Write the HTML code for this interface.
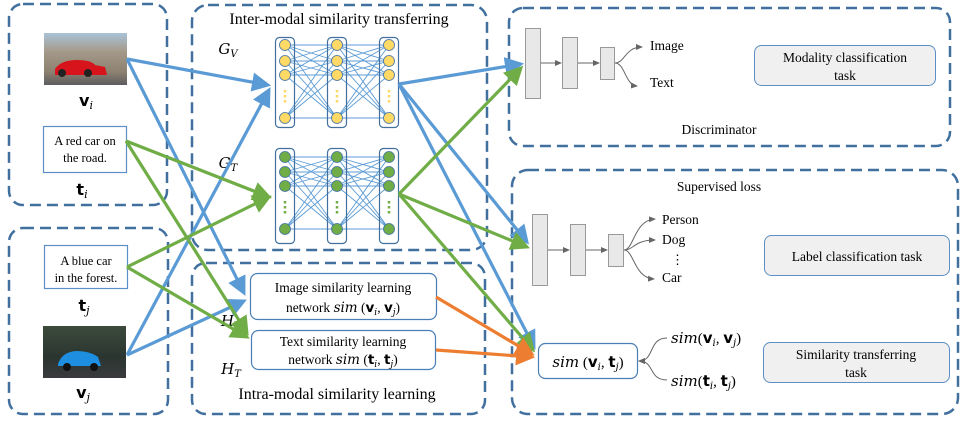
<!DOCTYPE html>
<html><head><meta charset="utf-8"><style>
html,body{margin:0;padding:0;background:#fff;}
svg{display:block;font-family:"Liberation Serif",serif;}
.it{font-style:italic;font-family:"DejaVu Serif","Liberation Serif",serif;}
</style></head><body>
<svg width="970" height="421" viewBox="0 0 970 421" xmlns="http://www.w3.org/2000/svg">
<defs>
<marker id="ab" markerWidth="6" markerHeight="6" refX="5" refY="3" orient="auto" markerUnits="strokeWidth"><path d="M0,0 L6,3 L0,6 z" fill="#5b9bd5"/></marker>
<marker id="ag" markerWidth="6" markerHeight="6" refX="5" refY="3" orient="auto" markerUnits="strokeWidth"><path d="M0,0 L6,3 L0,6 z" fill="#70ad47"/></marker>
<marker id="ao" markerWidth="6" markerHeight="6" refX="5" refY="3" orient="auto" markerUnits="strokeWidth"><path d="M0,0 L6,3 L0,6 z" fill="#ed7d31"/></marker>
<marker id="ak" markerWidth="8" markerHeight="8" refX="6" refY="3" orient="auto" markerUnits="userSpaceOnUse"><path d="M0,0 L7,3 L0,6 z" fill="#666"/></marker>
<linearGradient id="sky" x1="0" y1="0" x2="0" y2="1"><stop offset="0" stop-color="#a9c3d8"/><stop offset="0.35" stop-color="#a59a8a"/><stop offset="0.75" stop-color="#8d8170"/><stop offset="1" stop-color="#5c5c60"/></linearGradient>
<linearGradient id="for" x1="0" y1="0" x2="0" y2="1"><stop offset="0" stop-color="#3c4a3c"/><stop offset="0.6" stop-color="#2b3530"/><stop offset="1" stop-color="#3a3a3e"/></linearGradient>
</defs>

<g fill="none" stroke="#41709f" stroke-width="2.5" stroke-dasharray="11,6">
<rect x="9" y="4" width="158" height="201" rx="14"/>
<rect x="9" y="228" width="159" height="186" rx="14"/>
<rect x="192" y="5" width="295" height="245" rx="16"/>
<rect x="192" y="263" width="293" height="151" rx="14"/>
<rect x="509" y="8" width="441" height="138" rx="14"/>
<rect x="512" y="170" width="446" height="244" rx="16"/>
</g>

<rect x="44" y="33" width="83" height="52" fill="url(#sky)"/>
<path d="M55,69 q6,-9 22,-9 q14,0 18,5 l10,2 l2,8 l-52,0 z" fill="#d7141c"/>
<circle cx="62" cy="73" r="4" fill="#222"/><circle cx="88" cy="73" r="4" fill="#222"/>
<text x="86" y="106" font-size="16" font-weight="bold" text-anchor="middle" font-family="DejaVu Sans">v<tspan class="it" font-size="11" font-weight="normal" dy="3">i</tspan></text>
<rect x="43" y="326" width="83" height="52" fill="url(#for)"/>
<path d="M58,364 q4,-12 18,-13 q14,0 22,6 l3,9 l-43,0 z" fill="#1e8fe0"/>
<circle cx="67" cy="367" r="4" fill="#111"/><circle cx="94" cy="367" r="4" fill="#111"/>
<text x="83" y="398" font-size="16" font-weight="bold" text-anchor="middle" font-family="DejaVu Sans">v<tspan class="it" font-size="11" font-weight="normal" dy="3">j</tspan></text>

<rect x="43.5" y="126.5" width="83" height="46" fill="#fff" stroke="#5b8fc5" stroke-width="1.2"/>
<text x="85" y="145" font-size="12.5" text-anchor="middle">A red car on</text>
<text x="85" y="162" font-size="12.5" text-anchor="middle">the road.</text>
<text x="82" y="195" font-size="16" font-weight="bold" text-anchor="middle" font-family="DejaVu Sans">t<tspan class="it" font-size="11" font-weight="normal" dy="3">i</tspan></text>
<rect x="44.5" y="245.5" width="83" height="43" fill="#fff" stroke="#5b8fc5" stroke-width="1.2"/>
<text x="86" y="265" font-size="12.5" text-anchor="middle">A blue car</text>
<text x="86" y="282" font-size="12.5" text-anchor="middle">in the forest.</text>
<text x="84" y="311" font-size="16" font-weight="bold" text-anchor="middle" font-family="DejaVu Sans">t<tspan class="it" font-size="11" font-weight="normal" dy="3">j</tspan></text>

<text x="339" y="24" font-size="16" text-anchor="middle">Inter-modal similarity transferring</text>
<text x="228" y="54" font-size="15" class="it" text-anchor="middle">G<tspan font-size="10" dy="3">V</tspan></text>
<text x="228" y="168" font-size="15" class="it" text-anchor="middle">G<tspan font-size="10" dy="3">T</tspan></text>

<g stroke="#5b9bd5" stroke-width="0.9" fill="none">
<path d="M285,45 L337,45 M285,45 L337,61 M285,45 L337,75 M285,45 L337,118 M285,61 L337,45 M285,61 L337,61 M285,61 L337,75 M285,61 L337,118 M285,75 L337,45 M285,75 L337,61 M285,75 L337,75 M285,75 L337,118 M285,118 L337,45 M285,118 L337,61 M285,118 L337,75 M285,118 L337,118"/>
<path d="M337,45 L389,45 M337,45 L389,61 M337,45 L389,75 M337,45 L389,118 M337,61 L389,45 M337,61 L389,61 M337,61 L389,75 M337,61 L389,118 M337,75 L389,45 M337,75 L389,61 M337,75 L389,75 M337,75 L389,118 M337,118 L389,45 M337,118 L389,61 M337,118 L389,75 M337,118 L389,118"/>
<path d="M285,157 L337,157 M285,157 L337,172 M285,157 L337,186 M285,157 L337,229 M285,172 L337,157 M285,172 L337,172 M285,172 L337,186 M285,172 L337,229 M285,186 L337,157 M285,186 L337,172 M285,186 L337,186 M285,186 L337,229 M285,229 L337,157 M285,229 L337,172 M285,229 L337,186 M285,229 L337,229"/>
<path d="M337,157 L389,157 M337,157 L389,172 M337,157 L389,186 M337,157 L389,229 M337,172 L389,157 M337,172 L389,172 M337,172 L389,186 M337,172 L389,229 M337,186 L389,157 M337,186 L389,172 M337,186 L389,186 M337,186 L389,229 M337,229 L389,157 M337,229 L389,172 M337,229 L389,186 M337,229 L389,229"/>
</g>
<g fill="none" stroke="#41709f" stroke-width="1.2">
<rect x="275.5" y="37.5" width="19" height="90" rx="4"/><rect x="327.5" y="37.5" width="19" height="90" rx="4"/><rect x="379.5" y="37.5" width="19" height="90" rx="4"/>
<rect x="275.5" y="148.5" width="19" height="95" rx="4"/><rect x="327.5" y="148.5" width="19" height="95" rx="4"/><rect x="379.5" y="148.5" width="19" height="95" rx="4"/>
</g>
<g stroke="#41709f" stroke-width="0.8">
<g fill="#ffd966">
<circle cx="285" cy="45" r="5.5"/><circle cx="285" cy="61" r="5.5"/><circle cx="285" cy="75" r="5.5"/><circle cx="285" cy="118" r="5.5"/>
<circle cx="337" cy="45" r="5.5"/><circle cx="337" cy="61" r="5.5"/><circle cx="337" cy="75" r="5.5"/><circle cx="337" cy="118" r="5.5"/>
<circle cx="389" cy="45" r="5.5"/><circle cx="389" cy="61" r="5.5"/><circle cx="389" cy="75" r="5.5"/><circle cx="389" cy="118" r="5.5"/>
</g>
<g fill="#70ad47">
<circle cx="285" cy="157" r="5.5"/><circle cx="285" cy="172" r="5.5"/><circle cx="285" cy="186" r="5.5"/><circle cx="285" cy="229" r="5.5"/>
<circle cx="337" cy="157" r="5.5"/><circle cx="337" cy="172" r="5.5"/><circle cx="337" cy="186" r="5.5"/><circle cx="337" cy="229" r="5.5"/>
<circle cx="389" cy="157" r="5.5"/><circle cx="389" cy="172" r="5.5"/><circle cx="389" cy="186" r="5.5"/><circle cx="389" cy="229" r="5.5"/>
</g>
</g>
<g stroke-width="2.5" stroke-dasharray="2.5,2.5">
<path d="M285,90 V105 M337,90 V105 M389,90 V105" stroke="#ffd966"/>
<path d="M285,201 V216 M337,201 V216 M389,201 V216" stroke="#70ad47"/>
</g>

<rect x="250.5" y="273.5" width="186" height="46" rx="7" fill="#fff" stroke="#4a7fb5" stroke-width="1.2"/>
<text x="343" y="292" font-size="13.5" text-anchor="middle">Image similarity learning</text>
<text x="343" y="312" font-size="13.5" text-anchor="middle">network <tspan class="it">sim</tspan> (<tspan font-weight="bold" font-family="DejaVu Sans">v</tspan><tspan class="it" font-size="9" dy="3">i</tspan><tspan dy="-3">, </tspan><tspan font-weight="bold" font-family="DejaVu Sans">v</tspan><tspan class="it" font-size="9" dy="3">j</tspan><tspan dy="-3">)</tspan></text>
<rect x="251.5" y="330.5" width="184" height="39" rx="7" fill="#fff" stroke="#4a7fb5" stroke-width="1.2"/>
<text x="343" y="346" font-size="13.5" text-anchor="middle">Text similarity learning</text>
<text x="343" y="364" font-size="13.5" text-anchor="middle">network <tspan class="it">sim</tspan> (<tspan font-weight="bold" font-family="DejaVu Sans">t</tspan><tspan class="it" font-size="9" dy="3">i</tspan><tspan dy="-3">, </tspan><tspan font-weight="bold" font-family="DejaVu Sans">t</tspan><tspan class="it" font-size="9" dy="3">j</tspan><tspan dy="-3">)</tspan></text>
<text x="231" y="326" font-size="15" class="it" text-anchor="middle">H<tspan font-size="10" dy="3">V</tspan></text>
<text x="231" y="374" font-size="15" class="it" text-anchor="middle">H<tspan font-size="10" dy="3">T</tspan></text>
<text x="337" y="399" font-size="16" text-anchor="middle">Intra-modal similarity learning</text>

<g fill="#e8e8e8" stroke="#999" stroke-width="1">
<rect x="525.5" y="28.5" width="15" height="70"/><rect x="562.5" y="37.5" width="15" height="51"/><rect x="600.5" y="47.5" width="14" height="32"/>
<rect x="532.5" y="214.5" width="15" height="71"/><rect x="570.5" y="224.5" width="15" height="51"/><rect x="608.5" y="234.5" width="15" height="32"/>
</g>
<g stroke="#666" stroke-width="1" fill="none" marker-end="url(#ak)">
<path d="M541,63 H561"/><path d="M578,63 H599"/>
<path d="M615,63 C625,63 625,47 642,47"/><path d="M615,63 C625,63 625,85 637,86"/>
<path d="M548,250 H569"/><path d="M586,250 H607"/>
<path d="M624,250 C634,250 634,220 655,219"/><path d="M624,250 C634,250 634,240 655,240"/><path d="M624,250 C634,250 634,278 654,279"/>
</g>
<text x="650" y="50" font-size="13.5">Image</text>
<text x="650" y="87" font-size="13.5">Text</text>
<rect x="754.5" y="45.5" width="181" height="40" rx="7" fill="#f0f0f0" stroke="#5b8fc5" stroke-width="1"/>
<text x="845" y="62" font-size="13.5" text-anchor="middle">Modality classification</text>
<text x="845" y="80" font-size="13.5" text-anchor="middle">task</text>
<text x="719" y="134" font-size="13.5" text-anchor="middle">Discriminator</text>

<text x="719" y="191" font-size="13.5" text-anchor="middle">Supervised loss</text>
<text x="662" y="224" font-size="13.5">Person</text>
<text x="662" y="244" font-size="13.5">Dog</text>
<text x="671" y="264" font-size="13">⋮</text>
<text x="662" y="282" font-size="13.5">Car</text>
<rect x="764.5" y="235.5" width="185" height="40" rx="7" fill="#f0f0f0" stroke="#5b8fc5" stroke-width="1"/>
<text x="857" y="261" font-size="13.5" text-anchor="middle">Label classification task</text>
<rect x="538.5" y="343.5" width="99" height="35" rx="7" fill="#fff" stroke="#4a7fb5" stroke-width="1.2"/>
<text x="588" y="367" font-size="15" text-anchor="middle"><tspan class="it">sim</tspan> (<tspan font-weight="bold" font-family="DejaVu Sans">v</tspan><tspan class="it" font-size="10" dy="3">i</tspan><tspan dy="-3">, </tspan><tspan font-weight="bold" font-family="DejaVu Sans">t</tspan><tspan class="it" font-size="10" dy="3">j</tspan><tspan dy="-3">)</tspan></text>
<g stroke="#666" stroke-width="1" fill="none" marker-end="url(#ak)">
<path d="M667,338 C648,338 655,361 639,361"/><path d="M667,380 C648,380 655,361 639,361"/>
</g>
<text x="671" y="343" font-size="15"><tspan class="it">sim</tspan>(<tspan font-weight="bold" font-family="DejaVu Sans">v</tspan><tspan class="it" font-size="10" dy="3">i</tspan><tspan dy="-3">, </tspan><tspan font-weight="bold" font-family="DejaVu Sans">v</tspan><tspan class="it" font-size="10" dy="3">j</tspan><tspan dy="-3">)</tspan></text>
<text x="671" y="386" font-size="15"><tspan class="it">sim</tspan>(<tspan font-weight="bold" font-family="DejaVu Sans">t</tspan><tspan class="it" font-size="10" dy="3">i</tspan><tspan dy="-3">, </tspan><tspan font-weight="bold" font-family="DejaVu Sans">t</tspan><tspan class="it" font-size="10" dy="3">j</tspan><tspan dy="-3">)</tspan></text>
<rect x="763.5" y="342.5" width="186" height="40" rx="7" fill="#f0f0f0" stroke="#5b8fc5" stroke-width="1"/>
<text x="856" y="359" font-size="13.5" text-anchor="middle">Similarity transferring</text>
<text x="856" y="377" font-size="13.5" text-anchor="middle">task</text>

<g fill="none" stroke-width="3.2">
<path d="M127,59 L268,85" stroke="#5b9bd5" marker-end="url(#ab)"/>
<path d="M127,59 L244,293" stroke="#5b9bd5" marker-end="url(#ab)"/>
<path d="M127,355 L269,90" stroke="#5b9bd5" marker-end="url(#ab)"/>
<path d="M127,355 L244,301" stroke="#5b9bd5" marker-end="url(#ab)"/>
<path d="M126,141 L269,197" stroke="#70ad47" marker-end="url(#ag)"/>
<path d="M126,141 L247,333" stroke="#70ad47" marker-end="url(#ag)"/>
<path d="M127,267 L269,197" stroke="#70ad47" marker-end="url(#ag)"/>
<path d="M127,267 L247,337" stroke="#70ad47" marker-end="url(#ag)"/>
<path d="M399,84 L521,64" stroke="#5b9bd5" marker-end="url(#ab)"/>
<path d="M399,84 L527,242" stroke="#5b9bd5" marker-end="url(#ab)"/>
<path d="M399,84 L534,347" stroke="#5b9bd5" marker-end="url(#ab)"/>
<path d="M399,194 L521,68" stroke="#70ad47" marker-end="url(#ag)"/>
<path d="M399,194 L527,247" stroke="#70ad47" marker-end="url(#ag)"/>
<path d="M399,194 L533,350" stroke="#70ad47" marker-end="url(#ag)"/>
<path d="M436,297 L532,354" stroke="#ed7d31" marker-end="url(#ao)"/>
<path d="M436,350 L532,357" stroke="#ed7d31" marker-end="url(#ao)"/>
</g>
</svg>
</body></html>
